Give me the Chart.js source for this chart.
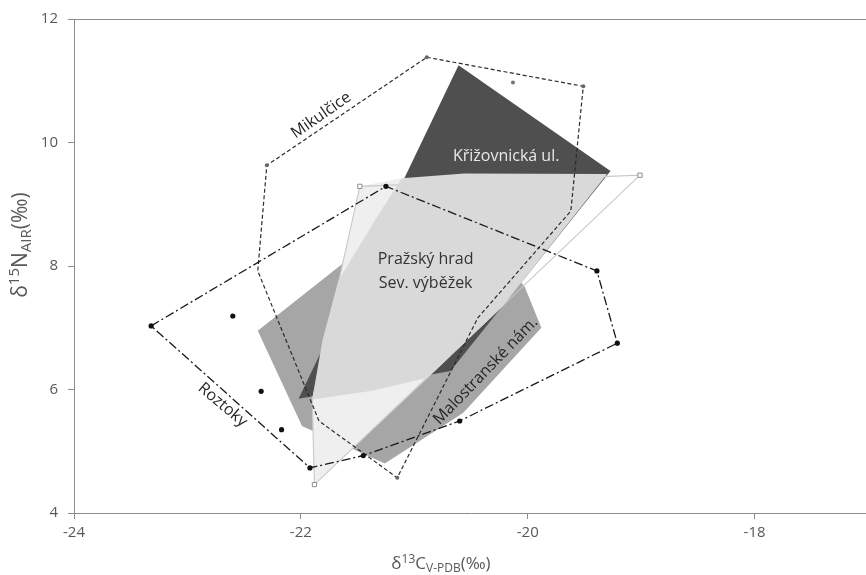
<!DOCTYPE html>
<html>
<head>
<meta charset="utf-8">
<script src="https://cdn.jsdelivr.net/npm/chart.js@4.4.1/dist/chart.umd.min.js"></script>
<style>
  html, body { margin: 0; padding: 0; background: #fff; overflow: hidden; }
  #wrap { width: 872px; height: 575px; }
</style>
</head>
<body>
<div id="wrap"><canvas id="chart"></canvas></div>
<script>
  // δ13C (x) / δ15N (y) hull vertices
  const mikulciceX = [-20.89, -19.51, -19.62, -20.44, -21.15, -21.84, -22.38, -22.30];
  const mikulciceY = [11.38, 10.91, 8.89, 7.16, 4.57, 5.49, 7.92, 9.63];
  const mikulciceInX = [-20.13];
  const mikulciceInY = [10.97];

  const roztokyX = [-23.32, -21.25, -19.39, -19.21, -20.60, -21.45, -21.92];
  const roztokyY = [7.03, 9.29, 7.92, 6.75, 5.49, 4.93, 4.73];
  const roztokyInX = [-22.60, -22.35, -22.17];
  const roztokyInY = [7.19, 5.97, 5.35];

  const hradOutX = [-21.48, -19.01, -21.88, -21.90];
  const hradOutY = [9.29, 9.47, 4.46, 5.82];

  // pale strip of the outline hull left/below the main fill
  const hradPaleX = [-21.48, -21.11, -20.88, -21.88, -21.90];
  const hradPaleY = [9.29, 9.42, 6.19, 4.46, 5.82];

  const hradX = [-21.11, -20.56, -19.30, -20.22, -20.88, -21.37, -21.90, -21.81, -21.67, -21.35];
  const hradY = [9.42, 9.50, 9.49, 7.35, 6.19, 5.98, 5.84, 6.79, 7.76, 8.73];

  const krizX = [-20.61, -19.27, -20.68, -22.02];
  const krizY = [11.25, 9.54, 6.30, 5.85];

  const malostranX = [-22.38, -20.88, -20.03, -19.88, -20.57, -21.26, -21.99];
  const malostranY = [6.95, 9.13, 7.68, 7.00, 5.62, 4.80, 5.41];

  const xTicks = [-24, -22, -20, -18];
  const yTicks = [4, 6, 8, 10, 12];

  const groupNames = [
    { text: "Mikulčice", x: -21.82, y: 10.44, rot: -35, color: "#262626" },
    { text: "Roztoky", x: -22.69, y: 5.75, rot: 40, color: "#262626" },
    { text: "Malostranské nám.", x: -20.37, y: 6.30, rot: -46, color: "#262626" },
    { text: "Křižovnická ul.", x: -20.19, y: 9.78, rot: 0, color: "#e8e8e8" },
    { text: "Pražský hrad", x: -20.90, y: 8.11, rot: 0, color: "#333333" },
    { text: "Sev. výběžek", x: -20.90, y: 7.71, rot: 0, color: "#333333" },
  ];

  const FONT = "'Open Sans', 'Noto Sans', sans-serif";
  const AXIS_GREY = "#8c8c8c";
  const TEXT_GREY = "#595959";

  function pts(xs, ys) {
    return xs.map((x, i) => ({ x, y: ys[i] }));
  }
  function ring(xs, ys) {
    const p = pts(xs, ys);
    return p.concat([p[0]]);
  }

  // fill closed shapes right before each dataset draws, so layering follows `order`
  const polyFill = {
    id: "polyFill",
    beforeDatasetDraw(chart, args) {
      const ds = chart.data.datasets[args.index];
      if (!ds.polyFill) return;
      const a = chart.chartArea;
      const ctx = chart.ctx;
      ctx.save();
      ctx.beginPath();
      ctx.rect(a.left, a.top, a.right - a.left, a.bottom - a.top);
      ctx.clip();
      ctx.beginPath();
      args.meta.data.forEach((p, i) => (i ? ctx.lineTo(p.x, p.y) : ctx.moveTo(p.x, p.y)));
      ctx.closePath();
      ctx.fillStyle = ds.polyFill;
      ctx.fill();
      ctx.restore();
    },
  };

  function richText(ctx, parts, cx, cy, rot) {
    ctx.save();
    ctx.translate(cx, cy);
    ctx.rotate(rot);
    let w = 0;
    parts.forEach((p) => {
      ctx.font = `${p.size}px ${FONT}`;
      p.w = ctx.measureText(p.t).width;
      w += p.w;
    });
    let x = -w / 2;
    ctx.fillStyle = TEXT_GREY;
    ctx.textBaseline = "alphabetic";
    ctx.textAlign = "left";
    parts.forEach((p) => {
      ctx.font = `${p.size}px ${FONT}`;
      ctx.fillText(p.t, x, 7 + (p.dy || 0));
      x += p.w;
    });
    ctx.restore();
  }

  const decorations = {
    id: "decorations",
    afterDatasetsDraw(chart) {
      const { ctx, chartArea: a, scales } = chart;
      ctx.save();
      ctx.beginPath();
      ctx.rect(a.left, a.top, a.right - a.left, a.bottom - a.top);
      ctx.clip();
      ctx.textAlign = "center";
      ctx.textBaseline = "middle";
      groupNames.forEach((g) => {
        ctx.save();
        ctx.translate(scales.x.getPixelForValue(g.x), scales.y.getPixelForValue(g.y));
        ctx.rotate((g.rot * Math.PI) / 180);
        ctx.font = `16px ${FONT}`;
        ctx.fillStyle = g.color;
        ctx.fillText(g.text, 0, 0);
        ctx.restore();
      });
      ctx.restore();

      // top frame line
      ctx.save();
      ctx.strokeStyle = AXIS_GREY;
      ctx.lineWidth = 1;
      ctx.beginPath();
      ctx.moveTo(a.left, a.top + 0.5);
      ctx.lineTo(a.right, a.top + 0.5);
      ctx.stroke();
      ctx.restore();
    },
    afterDraw(chart) {
      const ctx = chart.ctx;
      richText(ctx, [
        { t: "δ", size: 17 },
        { t: "13", size: 12, dy: -6 },
        { t: "C", size: 17 },
        { t: "V-PDB", size: 12, dy: 3 },
        { t: "(‰)", size: 17 },
      ], 441, 562, 0);
      richText(ctx, [
        { t: "δ", size: 21 },
        { t: "15", size: 15, dy: -8 },
        { t: "N", size: 21 },
        { t: "AIR", size: 15, dy: 4 },
        { t: "(‰)", size: 21 },
      ], 20, 245, -Math.PI / 2);
    },
  };

  const line = (data, extra) => Object.assign({
    data,
    showLine: true,
    fill: false,
    pointRadius: 0,
    pointHoverRadius: 0,
    borderWidth: 0,
    tension: 0,
  }, extra);

  new Chart(document.getElementById("chart"), {
    type: "scatter",
    data: {
      datasets: [
        line(ring(roztokyX, roztokyY), {
          label: "Roztoky", order: 1, borderColor: "#1a1a1a", borderWidth: 1.3,
          borderDash: [9, 3, 2, 3], pointRadius: [2.6, 2.6, 2.6, 2.6, 2.6, 2.6, 2.6, 0],
          pointBackgroundColor: "#111", pointBorderWidth: 0,
        }),
        { label: "Roztoky body", order: 1, data: pts(roztokyInX, roztokyInY),
          pointRadius: 2.6, pointBackgroundColor: "#111", pointBorderWidth: 0 },
        line(ring(mikulciceX, mikulciceY), {
          label: "Mikulčice", order: 2, borderColor: "#2b2b2b", borderWidth: 1.2,
          borderDash: [4, 2.5], pointRadius: [2, 2, 0, 0, 2, 0, 0, 2, 0],
          pointBackgroundColor: "#666", pointBorderWidth: 0,
        }),
        { label: "Mikulčice body", order: 2, data: pts(mikulciceInX, mikulciceInY),
          pointRadius: 2, pointBackgroundColor: "#777", pointBorderWidth: 0 },
        line(pts(hradX, hradY), { label: "Pražský hrad, Sev. výběžek", order: 5, polyFill: "#d9d9d9", showLine: false }),
        line(ring(hradOutX, hradOutY), {
          label: "Pražský hrad", order: 6, borderColor: "#c8c8c8",
          borderWidth: 1.1, pointStyle: "rect", pointRadius: [3, 3, 3, 0, 0],
          pointBackgroundColor: "#fff", pointBorderColor: "#8f8f8f", pointBorderWidth: 1,
        }),
        line(pts(hradPaleX, hradPaleY), { label: "Pražský hrad (okraj)", order: 6.5, polyFill: "#efefef", showLine: false }),
        line(pts(krizX, krizY), { label: "Křižovnická ul.", order: 7, polyFill: "#4f4f4f", showLine: false }),
        line(pts(malostranX, malostranY), { label: "Malostranské nám.", order: 8, polyFill: "#a6a6a6", showLine: false }),
      ],
    },
    options: {
      responsive: true,
      maintainAspectRatio: false,
      animation: false,
      events: [],
      layout: { padding: { top: 17, right: 0, left: 0, bottom: 0 } },
      plugins: { legend: { display: false }, tooltip: { enabled: false } },
      scales: {
        x: {
          type: "linear",
          min: -24,
          max: -17,
          afterBuildTicks(s) { s.ticks = xTicks.map((v) => ({ value: v })); },
          afterFit(s) { s.height = 62; },
          ticks: { color: TEXT_GREY, font: { family: FONT, size: 15 }, padding: 5 },
          grid: { drawOnChartArea: false, drawTicks: true, tickLength: 6, color: AXIS_GREY },
          border: { display: true, color: AXIS_GREY, width: 1 },
        },
        y: {
          type: "linear",
          min: 4,
          max: 12,
          afterBuildTicks(s) { s.ticks = yTicks.map((v) => ({ value: v })); },
          afterFit(s) { s.width = 74; },
          ticks: { color: TEXT_GREY, font: { family: FONT, size: 15 }, padding: 10 },
          grid: { drawOnChartArea: false, drawTicks: true, tickLength: 6, color: AXIS_GREY },
          border: { display: true, color: AXIS_GREY, width: 1 },
        },
      },
    },
    plugins: [polyFill, decorations],
  });
</script>
</body>
</html>
